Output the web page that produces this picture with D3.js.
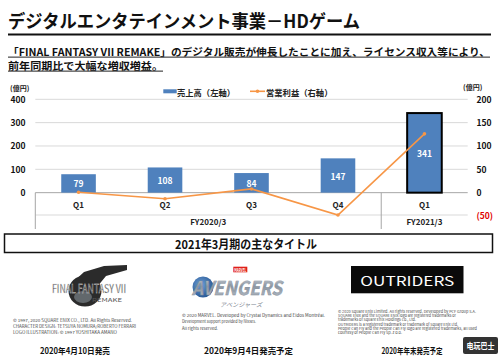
<!DOCTYPE html>
<html><head><meta charset="utf-8">
<script src="https://cdn.jsdelivr.net/npm/d3@7"></script>
<style>
html,body{margin:0;padding:0;background:#fff;overflow:hidden}
text{font-family:"Noto Sans CJK JP","Noto Sans",sans-serif}
</style>
</head><body>
<svg id="c" width="500" height="357" xmlns="http://www.w3.org/2000/svg"></svg>
<script>
// ---- data ----
const quarters = ["Q1", "Q2", "Q3", "Q4", "Q1"];
const sales = [79, 108, 84, 147, 341];          // 売上高（左軸）
const opProfit = [1, -13, 8, -48, 126];         // 営業利益（右軸）
const leftTicks = [0, 100, 200, 300, 400];
const rightTicks = [-50, 0, 50, 100, 150, 200];
const fyLabels = ["FY2020/3", "FY2021/3"];
const fyStart = [0, 4];
const fyEnd = [3, 4];
const titleText = "デジタルエンタテインメント事業－HDゲーム";
const subLine1 = "「FINAL FANTASY VII REMAKE」のデジタル販売が伸長したことに加え、ライセンス収入等により、";
const subLine2 = "前年同期比で大幅な増収増益。";
const legendLabels = ["売上高（左軸）", "営業利益（右軸）"];
const sectionTitle = "2021年3月期の主なタイトル";
const releaseLabels = ["2020年4月10日発売", "2020年9月4日発売予定", "2020年年末発売予定"];
const ffCopy = ["© 1997, 2020 SQUARE ENIX CO., LTD. All Rights Reserved.",
  "CHARACTER DESIGN: TETSUYA NOMURA/ROBERTO FERRARI",
  "LOGO ILLUSTRATION: © 1997 YOSHITAKA AMANO"];
const avCopy = ["© 2020 MARVEL. Developed by Crystal Dynamics and Eidos Montréal.",
  "Development support provided by Nixxes.",
  "All rights reserved."];
const orCopy = ["© 2020 Square Enix Limited. All rights reserved. Developed by PCF Group S.A.",
  "SQUARE ENIX and the SQUARE ENIX logo are registered trademarks or",
  "trademarks of Square Enix Holdings Co., Ltd.",
  "OUTRIDERS is a registered trademark or trademark of Square Enix Ltd.",
  "People Can Fly and the People Can Fly logo are registered trademarks, all used",
  "courtesy of People Can Fly Sp. z o.o."];

const BLUE = "#4F81BD", ORANGE = "#F79646";
const svg = d3.select("#c");
const defs = svg.append("defs");

// ---- header ----
svg.append("text").attr("x", 8).attr("y", 20).attr("dominant-baseline", "central")
  .attr("font-size", 18).attr("font-weight", 700).attr("fill", "#111")
  .attr("textLength", 352).attr("lengthAdjust", "spacingAndGlyphs").text(titleText);
svg.append("rect").attr("x", 8).attr("y", 33.5).attr("width", 483).attr("height", 2).attr("fill", "#111");

svg.append("text").attr("x", 8).attr("y", 51).attr("dominant-baseline", "central")
  .attr("font-size", 10.5).attr("font-weight", 700).attr("fill", "#111")
  .attr("textLength", 482).attr("lengthAdjust", "spacingAndGlyphs").text(subLine1);
svg.append("rect").attr("x", 8).attr("y", 56.5).attr("width", 482).attr("height", 1.3).attr("fill", "#555");
svg.append("text").attr("x", 8).attr("y", 65).attr("dominant-baseline", "central")
  .attr("font-size", 10.5).attr("font-weight", 700).attr("fill", "#111")
  .attr("textLength", 155).attr("lengthAdjust", "spacingAndGlyphs").text(subLine2);
svg.append("rect").attr("x", 8).attr("y", 70.5).attr("width", 155).attr("height", 1.3).attr("fill", "#555");

// ---- chart ----
const x = d3.scaleBand().domain(d3.range(quarters.length)).range([35.3, 467.7]).paddingInner(0).paddingOuter(0);
const yL = d3.scaleLinear().domain([-100, 400]).range([216, 99.3]);
const yR = d3.scaleLinear().domain([-50, 200]).range([216, 99.3]);
const x0 = x.range()[0], x1 = x.range()[1];
const y0 = yL(0);

const g = svg.append("g");
g.selectAll("line.grid").data(leftTicks.filter(d => d > 0)).join("line").attr("class", "grid")
  .attr("x1", x0).attr("x2", x1).attr("y1", d => yL(d)).attr("y2", d => yL(d))
  .attr("stroke", "#d9d9d9").attr("stroke-width", 1);

// category table
g.append("line").attr("x1", x0).attr("x2", x1).attr("y1", 215).attr("y2", 215).attr("stroke", "#d9d9d9");
[x0, x(4)].forEach(v => g.append("line").attr("x1", v).attr("x2", v).attr("y1", y0).attr("y2", 229)
  .attr("stroke", "#a6a6a6").attr("stroke-width", 1));
g.append("line").attr("x1", x0).attr("x2", x1).attr("y1", y0).attr("y2", y0).attr("stroke", "#a6a6a6");

g.selectAll("text.q").data(quarters).join("text").attr("class", "q")
  .attr("x", (d, i) => x(i) + x.bandwidth() / 2).attr("y", 204).attr("text-anchor", "middle")
  .attr("dominant-baseline", "central").attr("font-size", 8).attr("font-weight", 700).attr("fill", "#222").text(d => d);
g.selectAll("text.fy").data(fyLabels).join("text").attr("class", "fy")
  .attr("x", (d, i) => (x(fyStart[i]) + x(fyEnd[i]) + x.bandwidth()) / 2).attr("y", 221)
  .attr("text-anchor", "middle").attr("dominant-baseline", "central")
  .attr("font-size", 8).attr("font-weight", 700).attr("fill", "#222").text(d => d);

// bars
const bw = x.bandwidth() * 0.4;
g.selectAll("rect.bar").data(sales).join("rect").attr("class", "bar")
  .attr("x", (d, i) => x(i) + (x.bandwidth() - bw) / 2).attr("width", bw)
  .attr("y", d => yL(d)).attr("height", d => y0 - yL(d)).attr("fill", BLUE)
  .attr("stroke", (d, i) => i === sales.length - 1 ? "#000" : "none").attr("stroke-width", 2);

// line
const line = d3.line().x((d, i) => x(i) + x.bandwidth() / 2).y(d => yR(d));
g.append("path").datum(opProfit).attr("d", line).attr("fill", "none").attr("stroke", ORANGE).attr("stroke-width", 1.6);
g.selectAll("circle.pt").data(opProfit).join("circle").attr("class", "pt")
  .attr("cx", (d, i) => x(i) + x.bandwidth() / 2).attr("cy", d => yR(d)).attr("r", 1.8).attr("fill", ORANGE);

// bar labels
g.selectAll("text.bl").data(sales).join("text").attr("class", "bl")
  .attr("x", (d, i) => x(i) + x.bandwidth() / 2).attr("y", d => (yL(d) + y0) / 2)
  .attr("text-anchor", "middle").attr("dominant-baseline", "central")
  .attr("font-size", 8.5).attr("font-weight", 700).attr("fill", "#fff").text(d => d);

// axes
const axL = svg.append("g").attr("transform", "translate(25.5,0)")
  .call(d3.axisLeft(yL).tickValues(leftTicks).tickSize(0).tickPadding(0));
axL.select(".domain").remove();
axL.selectAll("text").attr("font-size", 8.5).attr("font-weight", 700).attr("fill", "#111")
  .attr("font-family", "'Noto Sans','Noto Sans CJK JP',sans-serif").attr("dy", "0.35em");
const axR = svg.append("g").attr("transform", "translate(476.5,0)")
  .call(d3.axisRight(yR).tickValues(rightTicks).tickSize(0).tickPadding(0)
    .tickFormat(d => d < 0 ? "(" + (-d) + ")" : d));
axR.select(".domain").remove();
axR.selectAll("text").attr("font-size", 8.5).attr("font-weight", 700)
  .attr("fill", d => d < 0 ? "#e00000" : "#111")
  .attr("font-family", "'Noto Sans','Noto Sans CJK JP',sans-serif").attr("dy", "0.35em");

svg.append("text").attr("x", 10).attr("y", 87.5).attr("dominant-baseline", "central")
  .attr("font-size", 7).attr("font-weight", 700).attr("fill", "#222").text("(億円)");
svg.append("text").attr("x", 463).attr("y", 87).attr("dominant-baseline", "central")
  .attr("font-size", 7).attr("font-weight", 700).attr("fill", "#222").text("(億円)");

// legend
svg.append("rect").attr("x", 163.3).attr("y", 89.3).attr("width", 13.4).attr("height", 4).attr("fill", BLUE);
svg.append("text").attr("x", 177).attr("y", 91.5).attr("dominant-baseline", "central")
  .attr("font-size", 8.3).attr("font-weight", 700).attr("fill", "#222")
  .attr("textLength", 58).attr("lengthAdjust", "spacingAndGlyphs").text(legendLabels[0]);
svg.append("line").attr("x1", 250).attr("x2", 265).attr("y1", 91.3).attr("y2", 91.3).attr("stroke", ORANGE).attr("stroke-width", 1.6);
svg.append("circle").attr("cx", 257.5).attr("cy", 91.3).attr("r", 1.8).attr("fill", ORANGE);
svg.append("text").attr("x", 266).attr("y", 91.5).attr("dominant-baseline", "central")
  .attr("font-size", 8.3).attr("font-weight", 700).attr("fill", "#222")
  .attr("textLength", 66.5).attr("lengthAdjust", "spacingAndGlyphs").text(legendLabels[1]);

// ---- section box ----
svg.append("rect").attr("x", 4.5).attr("y", 234).attr("width", 488).attr("height", 18.5)
  .attr("fill", "#fff").attr("stroke", "#111").attr("stroke-width", 1.5);
svg.append("text").attr("x", 246).attr("y", 243.5).attr("text-anchor", "middle").attr("dominant-baseline", "central")
  .attr("font-size", 12).attr("font-weight", 700).attr("fill", "#111")
  .attr("textLength", 142).attr("lengthAdjust", "spacingAndGlyphs").text(sectionTitle);

// ---- FF7 logo ----
const ff = svg.append("g").attr("class", "fflogo");
ff.append("ellipse").attr("cx", 85).attr("cy", 291).attr("rx", 16.5).attr("ry", 15.5).attr("fill", "#2b2b2b");
ff.append("polygon").attr("points", "72,283 84,272 104,266 127,265 127,270 106,276 97,287 98,293")
  .attr("fill", "#2b2b2b");
ff.append("ellipse").attr("cx", 83).attr("cy", 297).attr("rx", 9).attr("ry", 6).attr("fill", "#62686c");
const ffTitle = "FINAL FANTASY VII";
ff.append("text").attr("x", 52).attr("y", 292.5).attr("font-family", "'Liberation Serif',serif")
  .attr("font-size", 11.5).attr("fill", "#2a2a2a").attr("stroke", "#e6e6e6").attr("stroke-width", 0.35)
  .attr("textLength", 74).attr("lengthAdjust", "spacingAndGlyphs").text(ffTitle);
ff.append("text").attr("x", 92).attr("y", 301.5).attr("font-family", "'Liberation Serif',serif")
  .attr("font-size", 5).attr("fill", "#555").attr("textLength", 30).attr("lengthAdjust", "spacingAndGlyphs").text("REMAKE");
svg.selectAll("text.ffc").data(ffCopy).join("text").attr("class", "ffc")
  .attr("x", 13).attr("y", (d, i) => 319.5 + i * 6).attr("dominant-baseline", "central")
  .attr("font-size", 4.2).attr("fill", "#444").attr("font-family", "'Liberation Sans',sans-serif")
  .attr("textLength", (d, i) => [119, 123, 104][i]).attr("lengthAdjust", "spacingAndGlyphs").text(d => d);

// ---- Avengers logo ----
svg.append("rect").attr("x", 233.3).attr("y", 266.7).attr("width", 14).attr("height", 5.6).attr("fill", "#e0201a");
svg.append("text").attr("x", 240.3).attr("y", 269.6).attr("text-anchor", "middle").attr("dominant-baseline", "central")
  .attr("font-size", 5).attr("font-weight", 700).attr("fill", "#fff").attr("font-family", "'DejaVu Sans Condensed',sans-serif")
  .attr("textLength", 12).attr("lengthAdjust", "spacingAndGlyphs").text("MARVEL");
const ag = defs.append("linearGradient").attr("id", "ag").attr("x1", 0).attr("y1", 0).attr("x2", 0).attr("y2", 1);
ag.append("stop").attr("offset", "0").attr("stop-color", "#d5dbe2");
ag.append("stop").attr("offset", "0.5").attr("stop-color", "#8d97a3");
ag.append("stop").attr("offset", "1").attr("stop-color", "#b8c0c8");
const bg = defs.append("radialGradient").attr("id", "bg").attr("cx", "0.4").attr("cy", "0.4").attr("r", "0.7");
bg.append("stop").attr("offset", "0").attr("stop-color", "#6fa0d8");
bg.append("stop").attr("offset", "1").attr("stop-color", "#1f4f8c");
svg.append("circle").attr("cx", 203).attr("cy", 287).attr("r", 10.5).attr("fill", "url(#bg)");
svg.append("text").attr("x", 192).attr("y", 295).attr("font-family", "'DejaVu Sans Condensed',sans-serif")
  .attr("font-weight", 700).attr("font-style", "italic").attr("font-size", 19).attr("fill", "url(#ag)")
  .attr("stroke", "#7d8794").attr("stroke-width", 0.4)
  .attr("textLength", 90).attr("lengthAdjust", "spacingAndGlyphs").text("AVENGERS");
svg.append("text").attr("x", 241).attr("y", 304).attr("text-anchor", "middle").attr("dominant-baseline", "central")
  .attr("font-size", 6).attr("font-style", "italic").attr("fill", "#7d8590")
  .attr("textLength", 42).attr("lengthAdjust", "spacingAndGlyphs").text("アベンジャーズ");
svg.selectAll("text.avc").data(avCopy).join("text").attr("class", "avc")
  .attr("x", 182).attr("y", (d, i) => 315 + i * 6.3).attr("dominant-baseline", "central")
  .attr("font-size", 4.2).attr("fill", "#444").attr("font-family", "'Liberation Sans',sans-serif")
  .attr("textLength", (d, i) => [143, 74, 36][i]).attr("lengthAdjust", "spacingAndGlyphs").text(d => d);

// ---- Outriders logo ----
svg.append("rect").attr("x", 351).attr("y", 266).attr("width", 112.5).attr("height", 27.3).attr("fill", "#0a0a0a");
svg.append("text").attr("x", 407.3).attr("y", 280).attr("text-anchor", "middle").attr("dominant-baseline", "central")
  .attr("font-family", "'DejaVu Sans',sans-serif").attr("font-size", 13).attr("font-weight", 400).attr("fill", "#fff")
  .attr("textLength", 94).attr("lengthAdjust", "spacingAndGlyphs").text("OUTRIDERS");
svg.selectAll("text.orc").data(orCopy).join("text").attr("class", "orc")
  .attr("x", 338).attr("y", (d, i) => 311 + i * 4.35).attr("dominant-baseline", "central")
  .attr("font-size", 3.8).attr("fill", "#444").attr("font-family", "'Liberation Sans',sans-serif")
  .attr("textLength", (d, i) => [138, 118, 78, 120, 139, 64][i]).attr("lengthAdjust", "spacingAndGlyphs").text(d => d);

// ---- release labels ----
svg.selectAll("text.rel").data(releaseLabels).join("text").attr("class", "rel")
  .attr("x", (d, i) => [75, 248.5, 412][i]).attr("y", 350).attr("text-anchor", "middle").attr("dominant-baseline", "central")
  .attr("font-size", 8.5).attr("font-weight", 700).attr("fill", "#111")
  .attr("textLength", (d, i) => [70, 89, 61][i]).attr("lengthAdjust", "spacingAndGlyphs").text(d => d);

// ---- watermark ----
svg.append("rect").attr("x", 463).attr("y", 337).attr("width", 35).attr("height", 17).attr("rx", 2).attr("fill", "#333");
svg.append("text").attr("x", 480.5).attr("y", 345.5).attr("text-anchor", "middle").attr("dominant-baseline", "central")
  .attr("font-family", "'Noto Sans CJK SC',sans-serif").attr("font-size", 8).attr("font-weight", 700).attr("fill", "#fff")
  .attr("textLength", 28).attr("lengthAdjust", "spacingAndGlyphs").text("电玩巴士");
</script>
</body></html>
